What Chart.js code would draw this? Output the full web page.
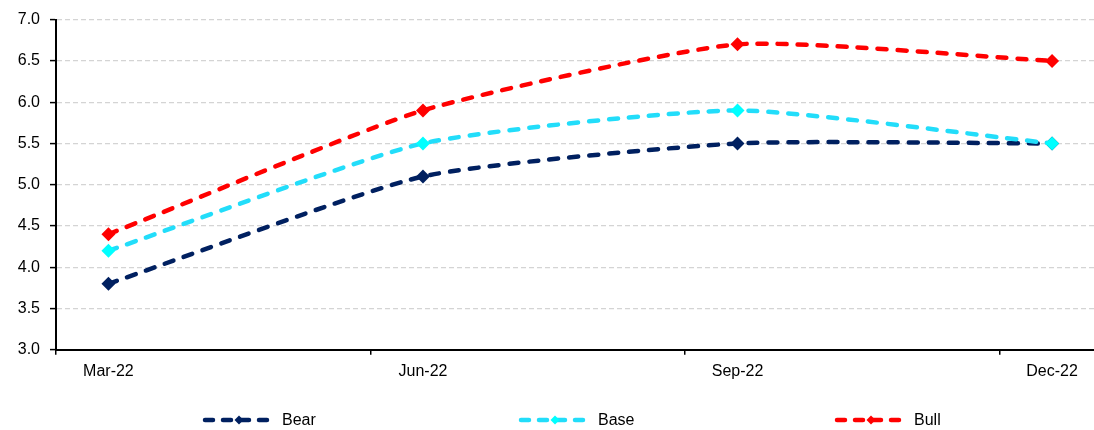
<!DOCTYPE html>
<html>
<head>
<meta charset="utf-8">
<script src="https://cdn.jsdelivr.net/npm/chart.js@4.4.1/dist/chart.umd.min.js"></script>
<style>
  html, body { margin: 0; padding: 0; background: #ffffff; }
  #wrap { width: 1094px; height: 430px; }
</style>
</head>
<body>
<div id="wrap"><canvas id="chart"></canvas></div>
<script>
// Quarter-end labels and the three scenario paths
const categories = ['Mar-22', 'Jun-22', 'Sep-22', 'Dec-22'];
const seriesNames = ['Bear', 'Base', 'Bull'];
const bearValues = [3.8, 5.1, 5.5, 5.5];
const baseValues = [4.2, 5.5, 5.9, 5.5];
const bullValues = [4.4, 5.9, 6.7, 6.5];
const yTickMin = 3.0;
const yTickMax = 7.0;
const yTickStep = 0.5;

// The x axis is a monthly time line: each quarter spans three months,
// points sit in the middle of their month, tick marks at quarter starts.
const MONTHS_PER_QUARTER = 3;
const monthSlot = i => i * MONTHS_PER_QUARTER + 0.5;
const toPoints = values => values.map((v, i) => ({ x: monthSlot(i), y: v }));

const FONT = "'Liberation Sans', Arial, Helvetica, sans-serif";
const colors = ['#002060', '#22DDFA', '#FF0000'];
const markerColors = ['#002060', '#00FFFF', '#FF0000'];
const valueSets = [bearValues, baseValues, bullValues];

const datasets = seriesNames.map((name, i) => ({
  label: name,
  data: toPoints(valueSets[i]),
  borderColor: colors[i],
  backgroundColor: markerColors[i],
  borderWidth: 4.5,
  borderDash: [9, 11],
  borderCapStyle: 'round',
  tension: 0.18,
  pointStyle: 'rectRot',
  pointRadius: 7,
  pointHoverRadius: 7,
  pointBorderWidth: 0,
  pointBackgroundColor: markerColors[i],
  order: seriesNames.length - i,
  fill: false,
  clip: false
}));

// Bottom legend: dashed line with a small diamond, then the series name
const lineLegend = {
  id: 'lineLegend',
  afterDraw(chart, args, opts) {
    const ctx = chart.ctx;
    const cy = opts.y;
    chart.data.datasets.forEach((ds, i) => {
      const x0 = opts.start + i * opts.step;
      const x1 = x0 + opts.swatch;
      ctx.save();
      ctx.strokeStyle = ds.borderColor;
      ctx.lineWidth = 4.5;
      ctx.lineCap = 'round';
      ctx.setLineDash([8, 10]);
      ctx.beginPath();
      ctx.moveTo(x0 + 2, cy);
      ctx.lineTo(x1 - 2, cy);
      ctx.stroke();
      ctx.setLineDash([]);
      const mx = (x0 + x1) / 2, r = 4.5;
      ctx.fillStyle = ds.pointBackgroundColor;
      ctx.beginPath();
      ctx.moveTo(mx - r, cy);
      ctx.lineTo(mx, cy - r);
      ctx.lineTo(mx + r, cy);
      ctx.lineTo(mx, cy + r);
      ctx.closePath();
      ctx.fill();
      ctx.fillStyle = '#000000';
      ctx.font = '16px ' + FONT;
      ctx.textAlign = 'left';
      ctx.textBaseline = 'middle';
      ctx.fillText(ds.label, x1 + 7, cy + 1);
      ctx.restore();
    });
  }
};

new Chart(document.getElementById('chart'), {
  type: 'line',
  data: { datasets },
  plugins: [lineLegend],
  options: {
    responsive: true,
    maintainAspectRatio: false,
    animation: false,
    layout: { autoPadding: false, padding: { left: 0, right: 0, top: 18, bottom: 42 } },
    plugins: {
      legend: { display: false },
      tooltip: { enabled: false },
      lineLegend: { start: 203, step: 316, swatch: 72, y: 420 }
    },
    scales: {
      x: {
        type: 'linear',
        min: 0,
        max: 9.9,
        afterBuildTicks: scale => {
          const t = [];
          categories.forEach((c, i) => {
            t.push({ value: i * MONTHS_PER_QUARTER });
            t.push({ value: monthSlot(i) });
          });
          scale.ticks = t;
        },
        afterFit: scale => { scale.paddingLeft = 0; scale.paddingRight = 0; },
        ticks: {
          autoSkip: false,
          maxRotation: 0,
          padding: 7,
          color: '#000000',
          font: { family: FONT, size: 16 },
          callback: v => {
            const i = (v - 0.5) / MONTHS_PER_QUARTER;
            return Number.isInteger(i) ? categories[i] : '';
          }
        },
        grid: {
          drawOnChartArea: false,
          tickLength: 5,
          lineWidth: 1.5,
          tickColor: c => (c.tick && c.tick.value % MONTHS_PER_QUARTER === 0) ? '#000000' : 'rgba(0,0,0,0)'
        },
        border: { color: '#000000', width: 2 }
      },
      y: {
        min: yTickMin,
        max: yTickMax,
        afterFit: scale => { scale.width = 56; },
        ticks: {
          stepSize: yTickStep,
          padding: 10,
          color: '#000000',
          font: { family: FONT, size: 16 },
          callback: v => Number(v).toFixed(1)
        },
        grid: {
          color: '#D4D4D4',
          lineWidth: 1.2,
          tickLength: 6,
          tickColor: '#000000',
          tickWidth: 1.5,
          tickBorderDash: []
        },
        border: { color: '#000000', width: 2, dash: [5, 3] }
      }
    }
  }
});
</script>
</body>
</html>
